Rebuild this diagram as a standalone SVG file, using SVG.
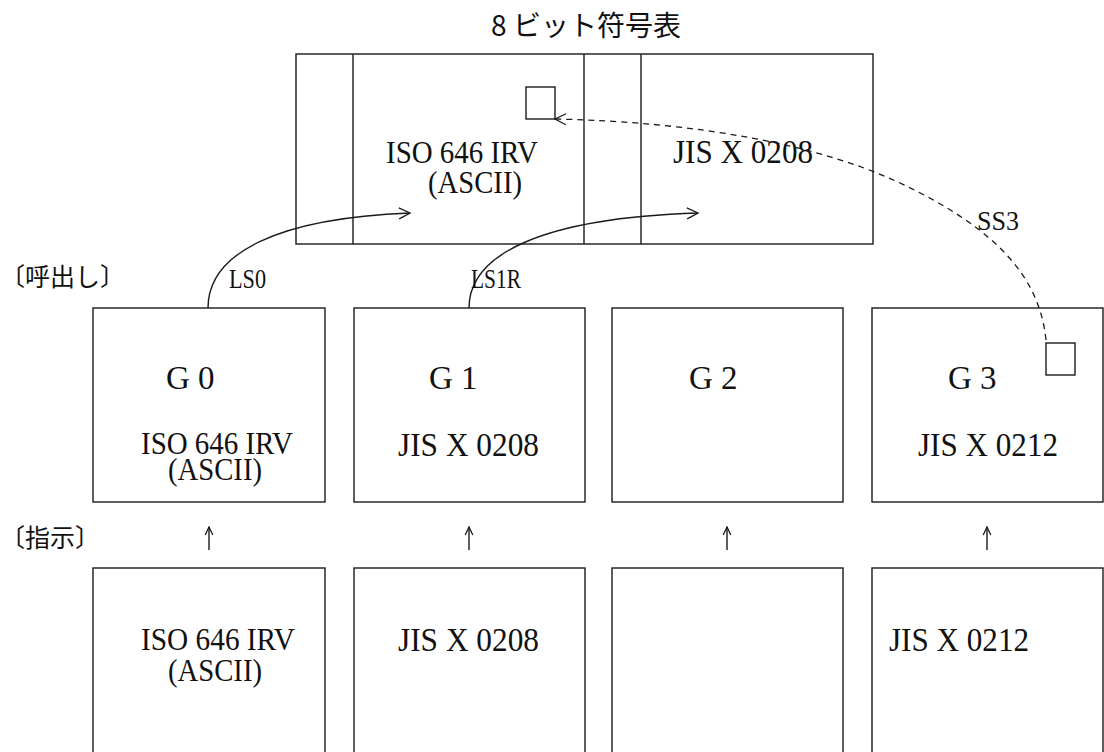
<svg xmlns="http://www.w3.org/2000/svg" width="1104" height="752" viewBox="0 0 1104 752">
<defs>
<style>
.box{fill:none;stroke:#1a1a1a;stroke-width:1.4}
.ln{fill:none;stroke:#1a1a1a;stroke-width:1.4}
.dash{fill:none;stroke:#1a1a1a;stroke-width:1.3;stroke-dasharray:6 5}
.cjk{font-family:"Noto Sans CJK JP","Noto Sans",sans-serif;fill:#111}
.ser{font-family:"Liberation Serif","Times New Roman",serif;fill:#111;font-size:33px}
.ser2{font-family:"Liberation Serif","Times New Roman",serif;fill:#111;font-size:31px}
.lbl{font-family:"Liberation Serif","Times New Roman",serif;fill:#111;font-size:28px}
</style>
<marker id="open" viewBox="-12 -7 14 14" refX="0" refY="0" markerWidth="14" markerHeight="14" markerUnits="userSpaceOnUse" orient="auto">
<path d="M-11,-5.5 L0,0 L-11,5.5" fill="none" stroke="#1a1a1a" stroke-width="1.3"/>
</marker>
<marker id="up" viewBox="-10 -6 12 12" refX="0" refY="0" markerWidth="12" markerHeight="12" markerUnits="userSpaceOnUse" orient="auto">
<path d="M-8,-3.8 L0,0 L-8,3.8" fill="none" stroke="#1a1a1a" stroke-width="1.3"/>
</marker>
</defs>
<rect width="1104" height="752" fill="#fff"/>

<text class="cjk" x="586" y="36" font-size="28" text-anchor="middle">8 ビット符号表</text>

<g id="code-table">
<rect class="box" x="296" y="54" width="577" height="190"/>
<line class="ln" x1="353" y1="54" x2="353" y2="244"/>
<line class="ln" x1="584" y1="54" x2="584" y2="244"/>
<line class="ln" x1="641" y1="54" x2="641" y2="244"/>
<rect class="box" x="526" y="87" width="29" height="32"/>
<text class="ser2" x="386" y="163" textLength="152" lengthAdjust="spacingAndGlyphs">ISO 646 IRV</text>
<text class="ser2" x="428" y="193" textLength="94" lengthAdjust="spacingAndGlyphs">(ASCII)</text>
<text class="ser" x="673" y="163" textLength="140" lengthAdjust="spacingAndGlyphs">JIS X 0208</text>
</g>

<text class="cjk" x="0" y="286" font-size="25">〔呼出し〕</text>
<text class="cjk" x="0" y="547" font-size="25">〔指示〕</text>

<g id="G0">
<rect class="box" x="93" y="308" width="232" height="194"/>
<text class="ser" x="166" y="389">G 0</text>
<text class="ser2" x="141" y="454" textLength="152" lengthAdjust="spacingAndGlyphs">ISO 646 IRV</text>
<text class="ser2" x="168" y="480" textLength="94" lengthAdjust="spacingAndGlyphs">(ASCII)</text>
</g>
<g id="G1">
<rect class="box" x="354" y="308" width="231" height="194"/>
<text class="ser" x="429" y="389">G 1</text>
<text class="ser" x="398" y="456" textLength="141" lengthAdjust="spacingAndGlyphs">JIS X 0208</text>
</g>
<g id="G2">
<rect class="box" x="612" y="308" width="231" height="194"/>
<text class="ser" x="689" y="389">G 2</text>
</g>
<g id="G3">
<rect class="box" x="872" y="308" width="231" height="194"/>
<text class="ser" x="948" y="389">G 3</text>
<rect class="box" x="1046" y="343" width="29" height="32"/>
<text class="ser" x="918" y="456" textLength="140" lengthAdjust="spacingAndGlyphs">JIS X 0212</text>
</g>

<g id="D0">
<rect class="box" x="93" y="568" width="232" height="200"/>
<text class="ser2" x="141" y="650" textLength="154" lengthAdjust="spacingAndGlyphs">ISO 646 IRV</text>
<text class="ser2" x="168" y="681" textLength="94" lengthAdjust="spacingAndGlyphs">(ASCII)</text>
</g>
<g id="D1">
<rect class="box" x="354" y="568" width="231" height="200"/>
<text class="ser" x="398" y="651" textLength="141" lengthAdjust="spacingAndGlyphs">JIS X 0208</text>
</g>
<g id="D2">
<rect class="box" x="612" y="568" width="231" height="200"/>
</g>
<g id="D3">
<rect class="box" x="872" y="568" width="231" height="200"/>
<text class="ser" x="889" y="651" textLength="140" lengthAdjust="spacingAndGlyphs">JIS X 0212</text>
</g>

<g id="connectors">
<path class="ln" d="M208,308 C208,252 280,218 410,213" marker-end="url(#open)"/>
<path class="ln" d="M469,308 C469,255 540,218 698,213" marker-end="url(#open)"/>
<path class="dash" d="M1046,340 C1040,280 1000,230 900,183 C820,145.4 700,122 555,119" marker-end="url(#open)"/>
<line class="ln" x1="209" y1="550" x2="209" y2="527" marker-end="url(#up)"/>
<line class="ln" x1="469" y1="550" x2="469" y2="527" marker-end="url(#up)"/>
<line class="ln" x1="727" y1="550" x2="727" y2="527" marker-end="url(#up)"/>
<line class="ln" x1="987" y1="550" x2="987" y2="527" marker-end="url(#up)"/>
<text class="lbl" x="229" y="288" textLength="37" lengthAdjust="spacingAndGlyphs">LS0</text>
<text class="lbl" x="471" y="288" textLength="50" lengthAdjust="spacingAndGlyphs">LS1R</text>
<text class="lbl" x="977" y="230" textLength="42" lengthAdjust="spacingAndGlyphs">SS3</text>
</g>
</svg>
